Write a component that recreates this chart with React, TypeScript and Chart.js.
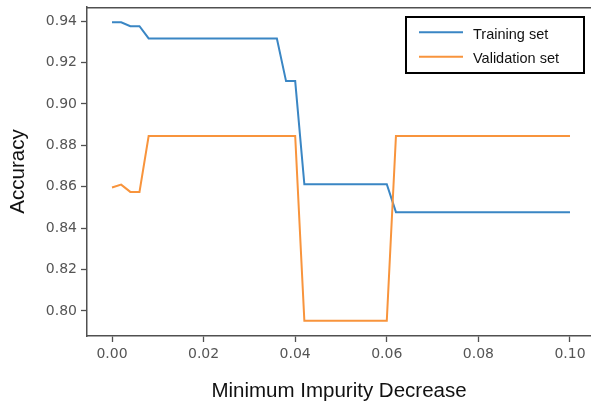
import React, { useEffect, useRef } from "react";
import { Chart, registerables } from "chart.js";

Chart.register(...registerables);

// ---- data ----
const xValues = [
  0.000, 0.002, 0.004, 0.006, 0.008, 0.010, 0.012, 0.014, 0.016, 0.018,
  0.020, 0.022, 0.024, 0.026, 0.028, 0.030, 0.032, 0.034, 0.036, 0.038,
  0.040, 0.042, 0.044, 0.046, 0.048, 0.050, 0.052, 0.054, 0.056, 0.058,
  0.060, 0.062, 0.064, 0.066, 0.068, 0.070, 0.072, 0.074, 0.076, 0.078,
  0.080, 0.082, 0.084, 0.086, 0.088, 0.090, 0.092, 0.094, 0.096, 0.098,
  0.100,
];

const trainingAccuracy = [
  0.9394, 0.9394, 0.9375, 0.9375, 0.9316, 0.9316, 0.9316, 0.9316, 0.9316, 0.9316,
  0.9316, 0.9316, 0.9316, 0.9316, 0.9316, 0.9316, 0.9316, 0.9316, 0.9316, 0.9110,
  0.9110, 0.8612, 0.8612, 0.8612, 0.8612, 0.8612, 0.8612, 0.8612, 0.8612, 0.8612,
  0.8612, 0.8477, 0.8477, 0.8477, 0.8477, 0.8477, 0.8477, 0.8477, 0.8477, 0.8477,
  0.8477, 0.8477, 0.8477, 0.8477, 0.8477, 0.8477, 0.8477, 0.8477, 0.8477, 0.8477,
  0.8477,
];

const validationAccuracy = [
  0.8596, 0.8610, 0.8575, 0.8575, 0.8845, 0.8845, 0.8845, 0.8845, 0.8845, 0.8845,
  0.8845, 0.8845, 0.8845, 0.8845, 0.8845, 0.8845, 0.8845, 0.8845, 0.8845, 0.8845,
  0.8845, 0.7953, 0.7953, 0.7953, 0.7953, 0.7953, 0.7953, 0.7953, 0.7953, 0.7953,
  0.7953, 0.8845, 0.8845, 0.8845, 0.8845, 0.8845, 0.8845, 0.8845, 0.8845, 0.8845,
  0.8845, 0.8845, 0.8845, 0.8845, 0.8845, 0.8845, 0.8845, 0.8845, 0.8845, 0.8845,
  0.8845,
];

const xTicks = [0.0, 0.02, 0.04, 0.06, 0.08, 0.1];
const yTicks = [0.8, 0.82, 0.84, 0.86, 0.88, 0.9, 0.92, 0.94];
const seriesLabels = ["Training set", "Validation set"];
const seriesColors = ["#3a86c4", "#f8943c"];
const xTitle = "Minimum Impurity Decrease";
const yTitle = "Accuracy";

const AXIS_COLOR = "#505050";
const TICK_TEXT = "#555555";

const framePlugin = {
  id: "frameAndLegend",
  afterDraw(chart: any) {
    const { ctx, chartArea } = chart;
    ctx.save();
    // top spine
    ctx.strokeStyle = AXIS_COLOR;
    ctx.lineWidth = 1.5;
    ctx.beginPath();
    ctx.moveTo(chartArea.left, chartArea.top + 0.75);
    ctx.lineTo(chartArea.right, chartArea.top + 0.75);
    ctx.stroke();

    // legend box
    const bx = chartArea.right - 185;
    const by = chartArea.top + 10;
    const bw = 178;
    const bh = 56;
    ctx.fillStyle = "#ffffff";
    ctx.fillRect(bx, by, bw, bh);
    ctx.strokeStyle = "#000000";
    ctx.lineWidth = 2;
    ctx.strokeRect(bx, by, bw, bh);

    const datasets = chart.data.datasets;
    ctx.font = '14.5px "Liberation Sans", Arial, sans-serif';
    ctx.textBaseline = "alphabetic";
    ctx.textAlign = "left";
    datasets.forEach((ds: any, i: number) => {
      const ly = by + 15.3 + i * 24.5;
      ctx.strokeStyle = ds.borderColor;
      ctx.lineWidth = 2;
      ctx.beginPath();
      ctx.moveTo(bx + 13, ly);
      ctx.lineTo(bx + 57, ly);
      ctx.stroke();
      ctx.fillStyle = "#111111";
      ctx.fillText(ds.label, bx + 67, ly + 6.5);
    });
    ctx.restore();
  },
};

export default function App() {
  const canvasRef = useRef<HTMLCanvasElement | null>(null);

  useEffect(() => {
    if (!canvasRef.current) return;
    const chart = new Chart(canvasRef.current, {
      type: "line",
      data: {
        datasets: [
          {
            label: seriesLabels[0],
            data: xValues.map((x, i) => ({ x, y: trainingAccuracy[i] })),
            borderColor: seriesColors[0],
            backgroundColor: seriesColors[0],
            borderWidth: 2,
            pointRadius: 0,
            tension: 0,
            order: 1,
          },
          {
            label: seriesLabels[1],
            data: xValues.map((x, i) => ({ x, y: validationAccuracy[i] })),
            borderColor: seriesColors[1],
            backgroundColor: seriesColors[1],
            borderWidth: 2,
            pointRadius: 0,
            tension: 0,
            order: 0,
          },
        ],
      },
      options: {
        animation: false,
        responsive: true,
        maintainAspectRatio: false,
        layout: { padding: { top: 7, left: 0, right: 0, bottom: 0 } },
        plugins: {
          legend: { display: false },
          tooltip: { enabled: false },
        },
        scales: {
          x: {
            type: "linear",
            min: -0.00546,
            max: 0.10459,
            afterBuildTicks: (scale: any) => {
              scale.ticks = xTicks.map((value) => ({ value }));
            },
            afterFit: (scale: any) => {
              scale.height = 68;
              scale.paddingLeft = 0;
              scale.paddingRight = 0;
              scale.paddingTop = 0;
              scale.paddingBottom = 0;
            },
            ticks: {
              autoSkip: false,
              maxRotation: 0,
              padding: 4,
              color: TICK_TEXT,
              font: { family: '"DejaVu Sans", sans-serif', size: 14 },
              callback: (v: any) => Number(v).toFixed(2),
            },
            grid: {
              drawOnChartArea: false,
              drawTicks: true,
              tickLength: 6,
              tickWidth: 1.3,
              tickColor: AXIS_COLOR,
            },
            border: { display: true, color: AXIS_COLOR, width: 1.5 },
            title: {
              display: true,
              text: xTitle,
              color: "#111111",
              font: { family: '"Liberation Sans", Arial, sans-serif', size: 20.5 },
              padding: { top: 0, bottom: 0 },
            },
          },
          y: {
            type: "linear",
            min: 0.7879,
            max: 0.9468,
            afterBuildTicks: (scale: any) => {
              scale.ticks = yTicks.map((value) => ({ value }));
            },
            afterFit: (scale: any) => {
              scale.width = 87;
              scale.paddingLeft = 0;
              scale.paddingRight = 0;
              scale.paddingTop = 0;
              scale.paddingBottom = 0;
            },
            ticks: {
              autoSkip: false,
              padding: 4,
              color: TICK_TEXT,
              font: { family: '"DejaVu Sans", sans-serif', size: 14 },
              callback: (v: any) => Number(v).toFixed(2),
            },
            grid: {
              drawOnChartArea: false,
              drawTicks: true,
              tickLength: 6,
              tickWidth: 1.3,
              tickColor: AXIS_COLOR,
            },
            border: { display: true, color: AXIS_COLOR, width: 1.5 },
            title: {
              display: true,
              text: yTitle,
              color: "#111111",
              font: { family: '"Liberation Sans", Arial, sans-serif', size: 20.5 },
              padding: { top: 6, bottom: 0 },
            },
          },
        },
      },
      plugins: [framePlugin],
    } as any);
    return () => chart.destroy();
  }, []);

  return (
    <div
      style={{
        position: "fixed",
        left: 0,
        top: 0,
        width: 591,
        height: 404,
        background: "#ffffff",
      }}
    >
      <canvas ref={canvasRef} />
    </div>
  );
}
